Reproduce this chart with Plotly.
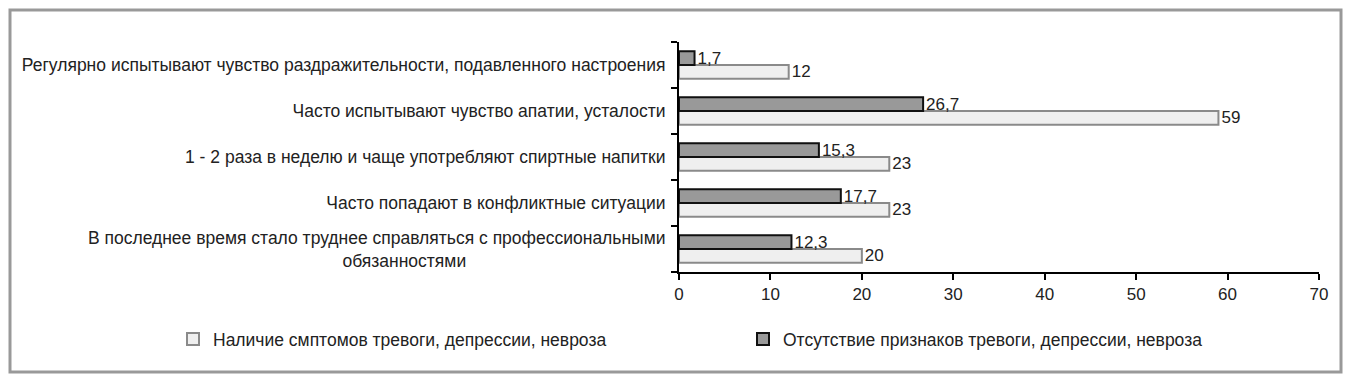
import plotly.graph_objects as go

NB = "\u00a0"
categories = [
    "В последнее время стало труднее справляться с профессиональными<br>обязанностями" + NB * 41,
    "Часто попадают в конфликтные ситуации",
    "1 - 2 раза в неделю и чаще употребляют спиртные напитки",
    "Часто испытывают чувство апатии, усталости",
    "Регулярно испытывают чувство раздражительности, подавленного настроения",
]
series_present_name = "Наличие смптомов тревоги, депрессии, невроза"
series_absent_name = "Отсутствие признаков тревоги, депрессии, невроза"
present_values = [20, 23, 23, 59, 12]
absent_values = [12.3, 17.7, 15.3, 26.7, 1.7]
x_ticks = [0, 10, 20, 30, 40, 50, 60, 70]


def fmt(v):
    return ("%g" % v).replace(".", ",")


FONT = "Liberation Sans, Arial, sans-serif"
FS = 17.5

fig = go.Figure()
fig.add_trace(go.Bar(
    y=categories, x=present_values, orientation="h", name=series_present_name,
    marker=dict(color="#efefef", line=dict(color="#8a8a8a", width=2)),
    text=[fmt(v) for v in present_values], textposition="outside",
    constraintext="none",
    textfont=dict(family=FONT, size=17, color="#222"), cliponaxis=False,
    legend="legend",
))
fig.add_trace(go.Bar(
    y=categories, x=absent_values, orientation="h", name=series_absent_name,
    marker=dict(color="#999999", line=dict(color="#111111", width=2)),
    text=[fmt(v) for v in absent_values], textposition="outside",
    constraintext="none",
    textfont=dict(family=FONT, size=17, color="#222"), cliponaxis=False,
    legend="legend2",
))

leg_common = dict(orientation="h", xref="container", yref="container", y=0.117,
                  yanchor="middle", xanchor="left", bgcolor="rgba(0,0,0,0)",
                  font=dict(family=FONT, size=FS, color="#222"))

fig.update_layout(
    width=1352, height=384,
    margin=dict(l=679, r=33, t=42, b=112, autoexpand=False),
    paper_bgcolor="white", plot_bgcolor="white",
    barmode="group", bargap=0.40, bargroupgap=0,
    font=dict(family=FONT, size=FS, color="#222"),
    showlegend=True,
    legend=dict(x=173 / 1352, **leg_common),
    legend2=dict(x=743 / 1352, **leg_common),
    xaxis=dict(range=[0, 70], tickvals=x_ticks, ticktext=[str(t) for t in x_ticks],
               showgrid=False, zeroline=False, showline=True, linecolor="black",
               linewidth=2, ticks="outside", ticklen=6, tickwidth=2, tickcolor="black",
               tickfont=dict(family=FONT, size=17, color="#222")),
    yaxis=dict(range=[-0.5, 4.5], showgrid=False, zeroline=False, showline=True,
               linecolor="black", linewidth=2, ticks="outside", ticklen=6,
               tickwidth=2, tickcolor="black", tickson="boundaries",
               tickfont=dict(family=FONT, size=FS, color="#222"), ticklabelstandoff=8),
)

fig.add_shape(type="rect", xref="paper", yref="paper",
              x0=(10 - 679) / 640, x1=(1341 - 679) / 640,
              y0=(272 - 372) / 230, y1=1 + 32 / 230,
              line=dict(color="#999999", width=3), fillcolor="rgba(0,0,0,0)", layer="below")

fig.write_html("out.html", config={"displayModeBar": False},
               post_script="document.body.style.margin='0px';")
